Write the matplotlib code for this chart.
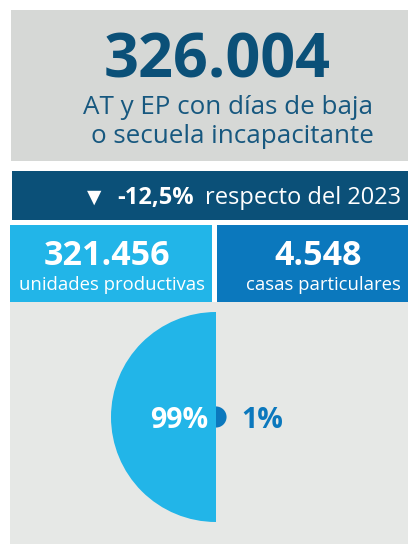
import numpy as np
import matplotlib
matplotlib.use('Agg')
import matplotlib.pyplot as plt
from matplotlib.patches import Rectangle, Wedge

# Chart data
total_cases = "326.004"
total_label = ["AT y EP con días de baja", "o secuela incapacitante"]
change_label = "-12,5%"
change_text = "respecto del 2023"
categories = ["unidades productivas", "casas particulares"]
counts = ["321.456", "4.548"]
shares = [99, 1]

# Colours
DARK = '#0b5078'
SUB = '#17587f'
GREY_TOP = '#d6d8d6'
GREY_BOT = '#e6e8e6'
LIGHT = '#22b5e8'
MID = '#0b78bd'
FONT = 'Open Sans'

fig = plt.figure(figsize=(4.08, 5.44), dpi=100)
ax = fig.add_axes([0, 0, 1, 1])
ax.set_xlim(0, 408)
ax.set_ylim(544, 0)
ax.axis('off')

# Panels
ax.add_patch(Rectangle((11, 10), 397, 151, color=GREY_TOP, lw=0))
ax.add_patch(Rectangle((12, 171), 396, 49, color=DARK, lw=0))
ax.add_patch(Rectangle((10, 225), 202, 77, color=LIGHT, lw=0))
ax.add_patch(Rectangle((217, 225), 191, 78, color=MID, lw=0))
ax.add_patch(Rectangle((10, 302), 398, 242, color=GREY_BOT, lw=0))

# Header
ax.text(217, 77, total_cases, ha='center', va='baseline', fontsize=44,
        fontweight='bold', color=DARK, family=FONT)
ax.text(228, 114, total_label[0], ha='center', va='baseline', fontsize=18.7,
        color=SUB, family=FONT)
ax.text(232, 143, total_label[1], ha='center', va='baseline', fontsize=18.7,
        color=SUB, family=FONT)

# Change band, chained from the right edge
renderer = fig.canvas.get_renderer()
t1 = ax.text(401, 204, change_text, ha='right', va='baseline', fontsize=17,
             color='white', family=FONT)
x1 = t1.get_window_extent(renderer).x0
t2 = ax.text(x1 - 11, 204, change_label, ha='right', va='baseline', fontsize=17,
             fontweight='bold', color='white', family=FONT)
x2 = t2.get_window_extent(renderer).x0
ax.text(x2 - 16, 203, "▼", ha='right', va='baseline', fontsize=13.5,
        color='white', family='DejaVu Sans')

# Category boxes
box_x = [107, 318]
lab_x = [112, 323]
for i in range(2):
    ax.text(box_x[i], 265, counts[i], ha='center', va='baseline', fontsize=24.5,
            fontweight='bold', color='white', family=FONT)
    ax.text(lab_x[i], 290, categories[i], ha='center', va='baseline', fontsize=13.3,
            color='white', family=FONT)

# Area-proportional half circles
cx, cy, R = 216, 417, 105
radii = [R * np.sqrt(s / max(shares)) for s in shares]
ax.add_patch(Wedge((cx, cy), radii[0], 90, 270, color=LIGHT, lw=0))
ax.add_patch(Wedge((cx, cy), radii[1], -90, 90, color=MID, lw=0))

ax.text(cx - 8, 428, f"{shares[0]}%", ha='right', va='baseline', fontsize=20.5,
        fontweight='bold', color='white', family=FONT)
ax.text(cx + 25, 428, f"{shares[1]}%", ha='left', va='baseline', fontsize=20.5,
        fontweight='bold', color=MID, family=FONT)

fig.savefig('out.png', dpi=100)
